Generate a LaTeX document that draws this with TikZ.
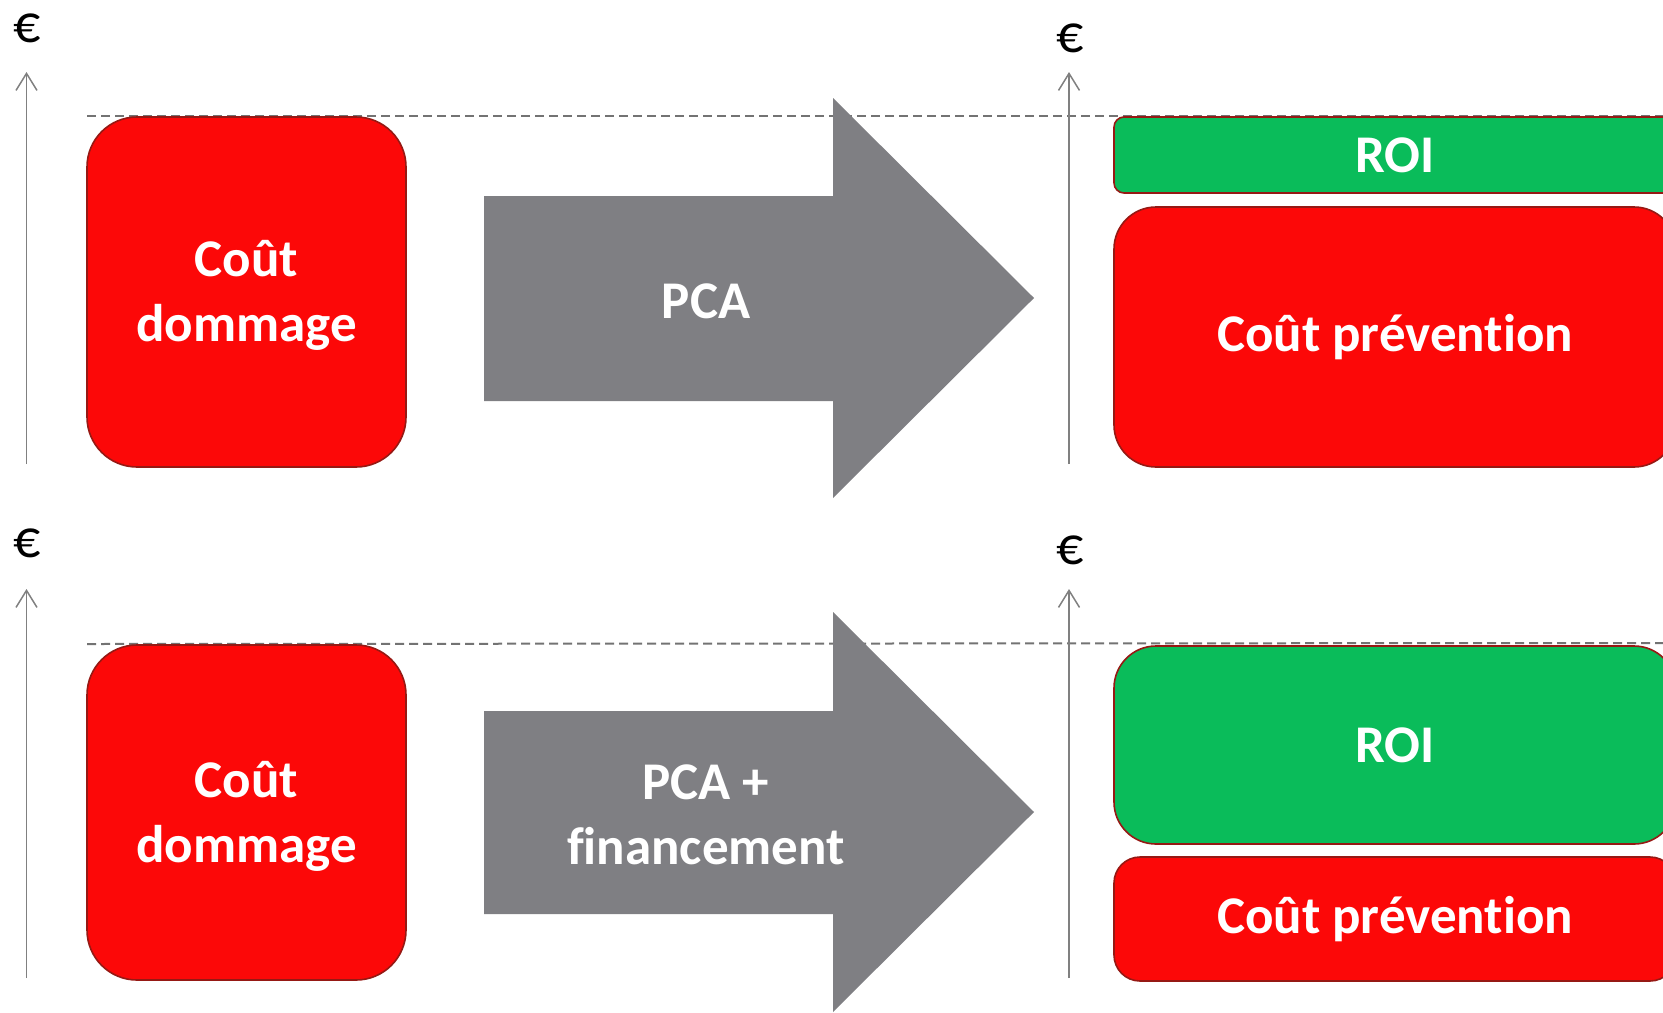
\documentclass[tikz,border=0pt]{standalone}
\usepackage{fontspec}
\setmainfont{Carlito}[Ligatures=NoCommon]
\usetikzlibrary{arrows.meta}
\definecolor{boxred}{RGB}{252,8,8}
\definecolor{boxgreen}{RGB}{10,188,90}
\definecolor{boxedge}{RGB}{150,25,20}
\definecolor{arrowgray}{RGB}{127,127,131}
\definecolor{axisgray}{RGB}{128,128,128}
\tikzset{
  boxtext/.style={text=white, align=center, inner sep=0pt,
    font=\fontsize{26.5}{32.5}\selectfont\bfseries},
  box/.style={boxtext, draw=boxedge, line width=0.8pt},
  redbox/.style={box, fill=boxred},
  greenbox/.style={box, fill=boxgreen},
  euro/.style={font=\fontsize{27}{30}\selectfont, text=black, inner sep=0pt},
  axis/.style={draw=axisgray, line width=0.75pt, -{Straight Barb[length=8.5pt,width=10.5pt,line width=0.75pt]}},
  level/.style={draw=axisgray!90!black, line width=1pt, dash pattern=on 4.5pt off 2.5pt},
  bigarrow/.style={fill=arrowgray, draw=none}
}
\begin{document}
\begin{tikzpicture}[x=0.5pt,y=-0.5pt]
\useasboundingbox (0,0) rectangle (1663,1012);
\clip (0,0) rectangle (1663,1012);
% dashed reference levels
\coordinate (d1s) at (87,116); \coordinate (d1e) at (1663,116);
\coordinate (d2s) at (87,644); \coordinate (d2e) at (1663,643);
\draw[level] (d1s) -- (d1e);
\draw[level] (d2s) -- (d2e);
% euro signs
\node[euro] (e1) at (27.5,28) {€};
\node[euro] (e2) at (1070,38) {€};
\node[euro] (e3) at (27.5,543) {€};
\node[euro] (e4) at (1070,550) {€};
% axes
\coordinate (a1s) at (26.5,464); \coordinate (a1e) at (26.5,72);
\coordinate (a2s) at (1069,464); \coordinate (a2e) at (1069,72);
\coordinate (a3s) at (26.5,978); \coordinate (a3e) at (26.5,589);
\coordinate (a4s) at (1069,978); \coordinate (a4e) at (1069,589);
\draw[axis] (a1s) -- (a1e);
\draw[axis] (a2s) -- (a2e);
\draw[axis] (a3s) -- (a3e);
\draw[axis] (a4s) -- (a4e);
% big arrows
\path[bigarrow] (484,196) -- (833,196) -- (833,98) -- (1034,298) -- (833,498) -- (833,401) -- (484,401) -- cycle;
\path[bigarrow] (484,711) -- (833,711) -- (833,612) -- (1034,812) -- (833,1012) -- (833,914) -- (484,914) -- cycle;
\node[boxtext] (t1) at (706,301) {PCA};
\node[boxtext] (t2) at (706,815) {PCA +\\financement};
% left boxes
\node[redbox, rounded corners=25pt, minimum width=159.5pt, minimum height=175pt] (cd1) at (246.5,292) {};
\node[boxtext] (cd1t) at (246.5,295) {Coût\\dommage};
\node[redbox, rounded corners=25pt, minimum width=159.5pt, minimum height=167.5pt] (cd2) at (246.5,812.5) {};
\node[boxtext] (cd2t) at (246.5,816) {Coût\\dommage};
% right boxes
\node[greenbox, rounded corners=5pt, minimum width=281pt, minimum height=38pt] (roi1) at (1395,155) {ROI};
\node[redbox, rounded corners=21pt, minimum width=281pt, minimum height=130pt] (cp1) at (1395,337) {Coût prévention};
\node[greenbox, rounded corners=21pt, minimum width=281pt, minimum height=99pt] (roi2) at (1395,745) {ROI};
\node[redbox, rounded corners=13pt, minimum width=281pt, minimum height=62pt] (cp2) at (1395,919) {Coût prévention};
\end{tikzpicture}
\end{document}
